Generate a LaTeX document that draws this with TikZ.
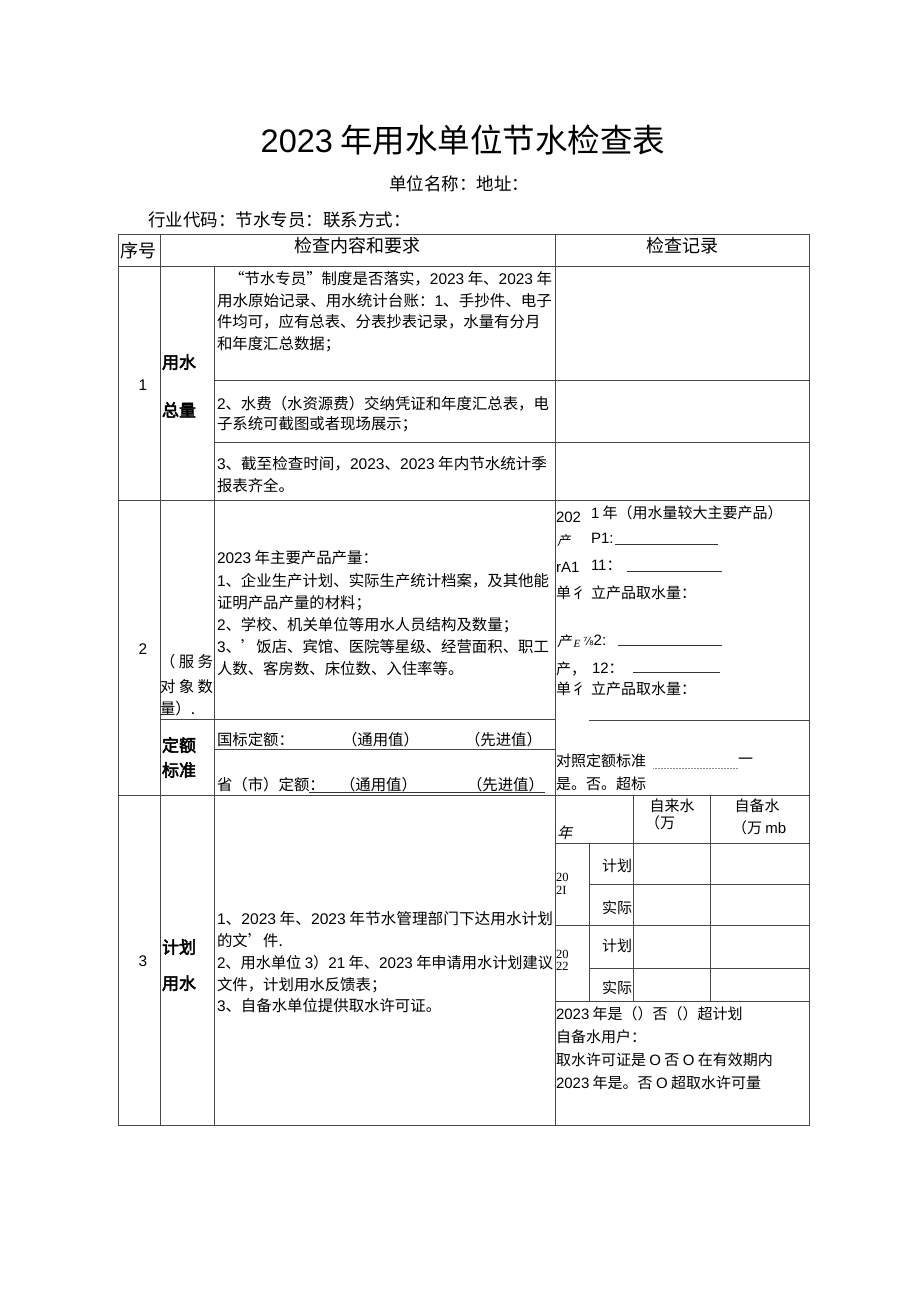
\documentclass[tikz,border=0pt]{standalone}
\usepackage{graphicx}
\usepackage{fontspec}
\setmainfont{Noto Sans CJK SC}
\newfontfamily\cjkbf[FakeBold=3]{Noto Sans CJK SC}
\newfontfamily\cjksl[FakeSlant=0.25]{Noto Sans CJK SC}
\newfontfamily\serifl{Liberation Serif}
\newfontfamily\serifit[FakeSlant=0.2]{Liberation Serif}
\newfontfamily\dejavu{DejaVu Sans}
\newfontfamily\arialf{Liberation Sans}
\newcommand\dg[1]{{\arialf #1}}
\newcommand\fitw[2]{\resizebox{#1}{\height}{#2}}
\newcommand\bodyf{\fontsize{15.4}{18}\selectfont}
\newcommand\recf{\fontsize{15}{18}\selectfont}
\newcommand\hdf{\fontsize{18}{20}\selectfont}
\newcommand\catf{\cjkbf\fontsize{17}{20}\selectfont}
\newcounter{nn}
\newcommand\tx[4][]{\stepcounter{nn}\node[txt,#1] (n\arabic{nn}) at (#2,#3) {#4};}
\tikzset{
  txt/.style={anchor=base west, inner sep=0pt, outer sep=0pt, font=\bodyf},
  ctr/.style={anchor=base},
  rec/.style={font=\recf},
  grid/.style={draw=black!72, line width=0.9pt},
  uline/.style={draw=black!80, line width=0.8pt},
  dotl/.style={draw=black!45, line width=0.7pt, dash pattern=on 1pt off 0.5pt},
}
\begin{document}
\begin{tikzpicture}[x=1pt,y=-1pt]
\useasboundingbox[fill=white] (0,0) rectangle (920,1301);

% ---------- title and heading lines ----------
\tx[ctr,font=\fontsize{32.5}{36}\selectfont]{463}{152}{\dg{2023} 年用水单位节水检查表}
\tx[ctr,font=\fontsize{17.5}{20}\selectfont]{459}{190.5}{单位名称：地址：}
\tx[font=\fontsize{17.5}{20}\selectfont]{148}{226.5}{行业代码：节水专员：联系方式：}

% ---------- table grid ----------
\draw[grid] (118,234) rectangle (809,1125);
\draw[grid] (118,266) -- (809,266);
\draw[grid] (118,500) -- (809,500);
\draw[grid] (118,795) -- (809,795);
\draw[grid] (160,234) -- (160,1125);
\draw[grid] (214,266) -- (214,1125);
\draw[grid] (555,234) -- (555,1125);
% row 1 sub rows
\draw[grid] (214,380) -- (809,380);
\draw[grid] (214,442) -- (809,442);
% row 2
\draw[grid] (160,719) -- (555,719);
\draw[grid] (214,749) -- (555,749);
\draw[grid] (589,720) -- (809,720);
% row 3 sub table
\draw[grid] (633,795) -- (633,1001);
\draw[grid] (710,795) -- (710,1001);
\draw[grid] (589,843) -- (589,1001);
\draw[grid] (555,843) -- (809,843);
\draw[grid] (589,884) -- (809,884);
\draw[grid] (555,925) -- (809,925);
\draw[grid] (589,968) -- (809,968);
\draw[grid] (555,1001) -- (809,1001);

% ---------- header row ----------
\tx[font=\hdf]{120}{257.8}{序号}
\tx[ctr,font=\hdf]{357}{252.8}{检查内容和要求}
\tx[ctr,font=\hdf]{682}{252.8}{检查记录}

% ---------- row 1 ----------
\tx[ctr]{143}{390.6}{\dg{1}}
\tx[font=\catf]{162}{368.5}{用水}
\tx[font=\catf]{162}{416.5}{总量}
\tx{229}{284}{\fitw{323pt}{“节水专员”制度是否落实，\dg{2023} 年、\dg{2023} 年}}
\tx{217}{306}{\fitw{335pt}{用水原始记录、用水统计台账：\dg{1}、手抄件、电子}}
\tx{217}{327}{件均可，应有总表、分表抄表记录，水量有分月}
\tx{217}{349}{和年度汇总数据；}
\tx{217}{409}{\fitw{332pt}{\dg{2}、水费（水资源费）交纳凭证和年度汇总表，电}}
\tx{217}{429}{子系统可截图或者现场展示；}
\tx{217}{469}{\fitw{330pt}{\dg{3}、截至检查时间，\dg{2023}、\dg{2023} 年内节水统计季}}
\tx{217}{491}{报表齐全。}

% ---------- row 2 ----------
\tx[ctr]{143}{654.6}{\dg{2}}
\tx{160}{667}{\makebox[53pt][s]{（\hfill 服\hfill 务}}
\tx{160}{692}{\makebox[53pt][s]{对\hfill 象\hfill 数}}
\tx{160}{714}{量）.}
\tx[font=\catf]{162}{751.5}{定额}
\tx[font=\catf]{162}{776.5}{标准}
\tx{217}{563}{\dg{2023} 年主要产品产量：}
\tx{217}{586}{\fitw{332pt}{\dg{1}、企业生产计划、实际生产统计档案，及其他能}}
\tx{217}{608}{证明产品产量的材料；}
\tx{217}{630}{\dg{2}、学校、机关单位等用水人员结构及数量；}
\tx{217}{652}{\makebox[332pt][s]{\dg{3}、’\hfill 饭店、\hfill 宾馆、\hfill 医院等星级、\hfill 经营面积、\hfill 职工}}
\tx{217}{674}{人数、客房数、床位数、入住率等。}
\tx{217}{745}{国标定额：}
\tx{342}{745}{（通用值）}
\tx{465}{745}{（先进值）}
\tx{217}{790}{省（市）定额：}
\tx{340}{790}{（通用值）}
\tx{467}{790}{（先进值）}
\draw[uline] (309,792) -- (545,792);

% row 2 record column
\tx[rec]{556}{522.6}{\dg{202}}
\tx[rec]{591}{518}{\dg{1} 年（用水量较大主要产品）}
\tx[font=\cjksl\fontsize{13}{15}\selectfont]{557}{545}{产}
\tx[rec]{591}{543.6}{\dg{P1:}}
\draw[uline] (615,544) -- (718,544);
\tx[rec]{556}{572.6}{\dg{rA1}}
\tx[rec]{591}{570.6}{\dg{11}：}
\draw[uline] (627,571) -- (722,571);
\tx[rec]{556}{598}{单彳}
\tx[rec]{591}{598}{立产品取水量：}
\tx[font=\cjksl\fontsize{14}{15}\selectfont]{557}{646}{产}
\tx[font=\serifit\fontsize{11}{12}\selectfont]{573}{647}{E}
\tx[rec]{583}{645.6}{{\dejavu\fontsize{11}{12}\selectfont ⅞}\dg{2:}}
\draw[uline] (618,645) -- (722,645);
\tx[rec]{556}{674}{产，}
\tx[rec]{592}{673.6}{\dg{12}：}
\draw[uline] (633,672) -- (720,672);
\tx[rec]{556}{694}{单彳}
\tx[rec]{591}{694}{立产品取水量：}
\tx[rec]{556}{766}{对照定额标准}
\draw[dotl] (653,768) -- (738,768);
\tx[rec]{738}{764}{一}
\tx[rec]{556}{789}{是。否。超标}

% ---------- row 3 ----------
\tx[ctr]{143}{966.6}{\dg{3}}
\tx[font=\catf]{162}{953.5}{计划}
\tx[font=\catf]{162}{989.5}{用水}
\tx{217}{924}{\fitw{336pt}{\dg{1}、\dg{2023} 年、\dg{2023} 年节水管理部门下达用水计划}}
\tx{217}{946}{的文’件.}
\tx{217}{968}{\fitw{336pt}{\dg{2}、用水单位 \dg{3}）\dg{21} 年、\dg{2023} 年申请用水计划建议}}
\tx{217}{990}{文件，计划用水反馈表；}
\tx{217}{1011}{\dg{3}、自备水单位提供取水许可证。}

% row 3 record column
\tx[rec,ctr]{672}{811}{自来水}
\tx[rec]{645}{828}{（万}
\tx[rec,ctr]{757}{811}{自备水}
\tx[rec]{732}{833}{（万 \dg{mb}}
\tx[font=\cjksl\fontsize{15}{18}\selectfont]{557}{838}{年}
\tx[font=\serifl\fontsize{12.5}{14}\selectfont]{556}{881.5}{20}
\tx[font=\serifl\fontsize{12.5}{14}\selectfont]{556}{894.5}{2I}
\tx[font=\serifl\fontsize{12.5}{14}\selectfont]{556}{958.5}{20}
\tx[font=\serifl\fontsize{12.5}{14}\selectfont]{556}{970.5}{22}
\tx[rec,ctr]{617}{871}{计划}
\tx[rec,ctr]{617}{913}{实际}
\tx[rec,ctr]{617}{951}{计划}
\tx[rec,ctr]{617}{993}{实际}
\tx[rec]{556}{1019}{\dg{2023} 年是（）否（）超计划}
\tx[rec]{556}{1042}{自备水用户：}
\tx[rec]{556}{1065}{取水许可证是 \dg{O} 否 \dg{O} 在有效期内}
\tx[rec]{556}{1088}{\dg{2023} 年是。否 \dg{O} 超取水许可量}
\end{tikzpicture}
\end{document}
